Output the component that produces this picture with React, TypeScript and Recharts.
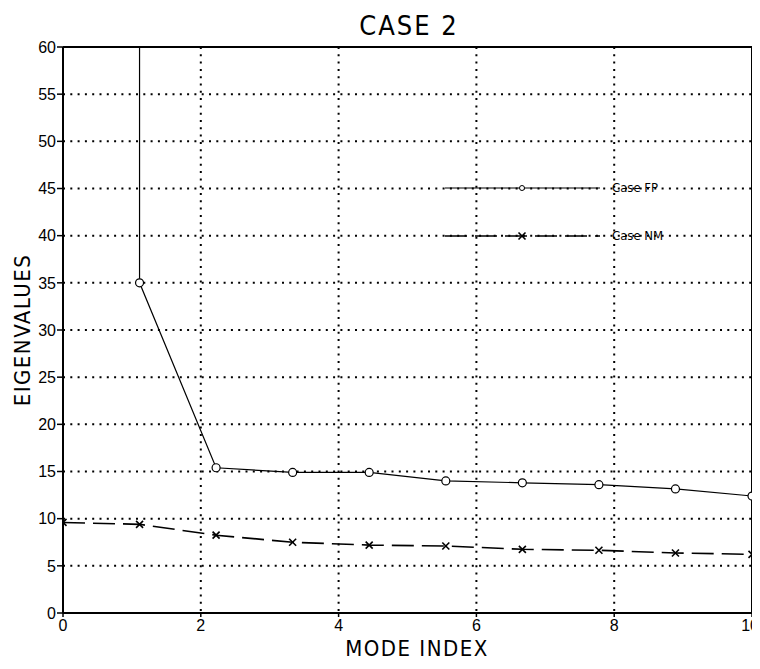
import React from "react";
import {LineChart, Line, XAxis, YAxis, CartesianGrid, ReferenceLine} from "recharts";

// mode positions and eigenvalues
const fpIndex = [1.111, 1.111, 2.222, 3.333, 4.444, 5.556, 6.667, 7.778, 8.889, 10];
const fpValues = [400, 35, 15.4, 14.9, 14.9, 14.0, 13.8, 13.6, 13.15, 12.4];

const nmIndex = [0, 1.111, 2.222, 3.333, 4.444, 5.556, 6.667, 7.778, 8.889, 10];
const nmValues = [9.6, 9.4, 8.25, 7.5, 7.2, 7.1, 6.75, 6.65, 6.36, 6.22];

const xTicks = [0, 2, 4, 6, 8, 10];
const yTicks = [0, 5, 10, 15, 20, 25, 30, 35, 40, 45, 50, 55, 60];

const fpData = fpIndex.map((x, i) => ({x, y: fpValues[i]}));
const nmData = nmIndex.map((x, i) => ({x, y: nmValues[i]}));

const W = 752;
const H = 661;
const NARROW = "'DejaVu Sans Condensed', 'Liberation Sans Narrow', sans-serif";
const TICK_FONT = "'Liberation Sans', Arial, sans-serif";

const CircleDot = (props: any) => {
    const {cx, cy, payload, index} = props;
    if (!payload || payload.y > 60 || cx == null) return <g key={`fp-${index}`}/>;
    return <circle key={`fp-${index}`} cx={cx} cy={cy} r={4} fill="#fff" stroke="#000" strokeWidth={1.2}/>;
};

const CrossDot = (props: any) => {
    const {cx, cy, index} = props;
    if (cx == null) return <g key={`nm-${index}`}/>;
    const s = 3.5;
    return (
        <g key={`nm-${index}`} stroke="#000" strokeWidth={1.6}>
            <line x1={cx - s} y1={cy - s} x2={cx + s} y2={cy + s}/>
            <line x1={cx - s} y1={cy + s} x2={cx + s} y2={cy - s}/>
        </g>
    );
};

// last label sits against the page edge, so pull it in
const XTick = (props: any) => {
    const {x, y, payload} = props;
    const last = payload.value === xTicks[xTicks.length - 1];
    return (
        <text x={last ? x + 7 : x} y={y} dy={13} textAnchor={last ? "end" : "middle"}
              fill="#000" fontSize={16} fontFamily={TICK_FONT}>
            {payload.value}
        </text>
    );
};

// legend drawn inside the plot, like the original
const LegendBox = () => (
    <svg width={230} height={70} style={{overflow: "visible"}}>
        <line x1={0} y1={8} x2={155} y2={8} stroke="#000" strokeWidth={1.2}/>
        <circle cx={77} cy={8} r={2.5} fill="#fff" stroke="#000" strokeWidth={1}/>
        <text x={167} y={8} dominantBaseline="middle" fontSize={13} fontFamily={NARROW}>Case FP</text>
        <line x1={0} y1={56} x2={155} y2={56} stroke="#000" strokeWidth={1.6} strokeDasharray="22 8"/>
        <CrossDot cx={77} cy={56} index={99}/>
        <text x={167} y={56} dominantBaseline="middle" fontSize={13} fontFamily={NARROW}>Case NM</text>
    </svg>
);

export default function App() {
    return (
        <div style={{position: "relative", width: W, height: H, background: "#fff"}}>
            <LineChart width={W} height={H} margin={{top: 39, right: 8, left: 0, bottom: 0}}>
                <CartesianGrid stroke="#000" strokeWidth={2} strokeDasharray="2 5.3"
                               horizontalValues={yTicks} verticalValues={xTicks}/>
                <XAxis type="number" dataKey="x" domain={[0, 10]} ticks={xTicks} height={56}
                       interval={0} allowDataOverflow axisLine={{stroke: "#000", strokeWidth: 2}}
                       tickLine={{stroke: "#000", strokeWidth: 1.5}} tickSize={4} tickMargin={1}
                       tick={<XTick/>}/>
                <YAxis type="number" dataKey="y" domain={[0, 60]} ticks={yTicks} width={55}
                       interval={0} allowDataOverflow axisLine={{stroke: "#000", strokeWidth: 2}}
                       tickLine={{stroke: "#000", strokeWidth: 1.5}} tickSize={6} tickMargin={1}
                       tick={{fill: "#000", fontSize: 16, fontFamily: TICK_FONT}}/>
                <ReferenceLine y={60} stroke="#000" strokeWidth={2}/>
                <ReferenceLine x={10} stroke="#000" strokeWidth={2}/>
                <Line data={fpData} dataKey="y" name="Case FP" type="linear" stroke="#000"
                      strokeWidth={1.2} dot={<CircleDot/>} isAnimationActive={false}/>
                <Line data={nmData} dataKey="y" name="Case NM" type="linear" stroke="#000"
                      strokeWidth={1.6} strokeDasharray="22 8" dot={<CrossDot/>} isAnimationActive={false}/>
            </LineChart>
            <div style={{position: "absolute", left: 437, top: 172}}>
                <LegendBox/>
            </div>
            <div style={{
                position: "absolute", left: 0, width: W, top: 2, textAlign: "center",
                fontFamily: NARROW, fontSize: 27, letterSpacing: 2, paddingLeft: 50, boxSizing: "border-box"
            }}>
                CASE 2
            </div>
            <div style={{
                position: "absolute", left: 0, width: W, top: 628, textAlign: "center",
                fontFamily: NARROW, fontSize: 22, letterSpacing: 1.5, paddingLeft: 66, boxSizing: "border-box"
            }}>
                MODE INDEX
            </div>
            <div style={{
                position: "absolute", left: 14, top: 322, transform: "translate(-50%, -50%) rotate(-90deg)",
                fontFamily: NARROW, fontSize: 22, letterSpacing: 1.5, whiteSpace: "nowrap"
            }}>
                EIGENVALUES
            </div>
        </div>
    );
}
